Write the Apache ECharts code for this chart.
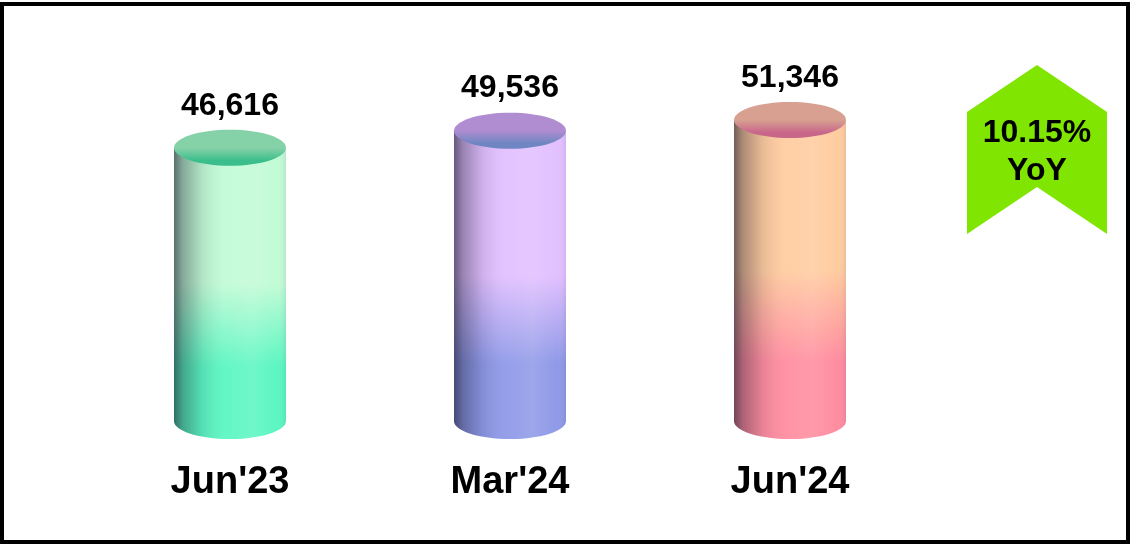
<!DOCTYPE html>
<html>
<head>
<meta charset="utf-8">
<script src="https://cdn.jsdelivr.net/npm/echarts@6/dist/echarts.min.js"></script>
<style>html,body{margin:0;padding:0;background:#fff}#c{width:1139px;height:545px}</style>
</head>
<body>
<div id="c"></div>
<script>
var categories = ["Jun'23", "Mar'24", "Jun'24"];
var values = [46616, 49536, 51346];

var palette = [
  {bodyTop:'#c2fbd6', bodyBot:'#5cf6c2', capTop:'#86d2a8', capBot:'#3cbe8c'},
  {bodyTop:'#e2c0ff', bodyBot:'#8f9ae8', capTop:'#b08cd0', capBot:'#6f86c2'},
  {bodyTop:'#ffcca0', bodyBot:'#ff8da0', capTop:'#d8a090', capBot:'#c8668a'}
];
var FONT = "'Liberation Sans', Arial, Helvetica, sans-serif";

var yoy = ((values[values.length-1] - values[0]) / values[0] * 100).toFixed(2) + '%';

function hShade() {
  return new echarts.graphic.LinearGradient(0,0,1,0,[
    {offset:0,color:'rgba(20,20,40,0.6)'},
    {offset:0.08,color:'rgba(20,20,40,0.35)'},
    {offset:0.25,color:'rgba(20,20,40,0.1)'},
    {offset:0.45,color:'rgba(255,255,255,0.05)'},
    {offset:0.7,color:'rgba(255,255,255,0.12)'},
    {offset:0.92,color:'rgba(255,255,255,0.0)'},
    {offset:1,color:'rgba(20,20,40,0.08)'}]);
}

function renderItem(params, api) {
  var i = api.value(0);
  var v = api.value(1);
  var top = api.coord([i, v]);
  var bot = api.coord([i, 0]);
  var bw = api.size([1, 0])[0];
  var rx = bw * 0.2;
  var ry = 18;
  var cx = top[0];
  var p = palette[i % palette.length];
  var bodyH = bot[1] - top[1];
  var bodyFill = new echarts.graphic.LinearGradient(0,0,0,1,[
    {offset:0,color:p.bodyTop},{offset:0.5,color:p.bodyTop},{offset:0.8,color:p.bodyBot},{offset:1,color:p.bodyBot}]);
  return {
    type:'group',
    children:[
      {type:'ellipse', shape:{cx:cx, cy:bot[1], rx:rx, ry:ry}, style:{fill:p.bodyBot}},
      {type:'ellipse', shape:{cx:cx, cy:bot[1], rx:rx, ry:ry}, style:{fill:hShade()}},
      {type:'rect', shape:{x:cx-rx, y:top[1], width:rx*2, height:bodyH}, style:{fill:bodyFill}},
      {type:'rect', shape:{x:cx-rx, y:top[1], width:rx*2, height:bodyH}, style:{fill:hShade()}},
      {type:'ellipse', shape:{cx:cx, cy:top[1], rx:rx, ry:ry},
        style:{fill:new echarts.graphic.LinearGradient(0,0,0,1,[
          {offset:0,color:p.capTop},{offset:0.5,color:p.capTop},{offset:0.85,color:p.capBot},{offset:1,color:p.capBot}])}},
      {type:'text', style:{x:cx, y:top[1]-42, text:v.toLocaleString('en-US'),
        align:'center', verticalAlign:'middle', fill:'#000',
        font:'bold 32px ' + FONT}}
    ]
  };
}

var chart = echarts.init(document.getElementById('c'), null, {renderer:'canvas'});
chart.setOption({
  backgroundColor:'#fff',
  animation:false,
  grid:{left:90, right:209, top:69.3, bottom:124},
  xAxis:{type:'category', data:categories,
    axisLine:{show:false}, axisTick:{show:false}, splitLine:{show:false},
    axisLabel:{margin:43, fontSize:38, fontWeight:'bold', color:'#000', fontFamily:FONT, lineHeight:38}},
  yAxis:{type:'value', min:0, max:60000, show:false},
  series:[{
    type:'custom',
    renderItem:renderItem,
    data:values.map(function(v,i){return [i,v];}),
    clip:false
  }],
  graphic:[
    {type:'rect', shape:{x:2, y:4, width:1126, height:538}, style:{fill:null, stroke:'#000', lineWidth:4}, z:100},
    {type:'polygon', shape:{points:[[1037,65],[1107,112],[1107,234],[1037,187],[967,234],[967,112]]}, style:{fill:'#80e500'}},
    {type:'text', style:{x:1037, y:133, text:yoy, align:'center', verticalAlign:'middle', fill:'#000', font:'bold 32px ' + FONT}},
    {type:'text', style:{x:1037, y:171, text:'YoY', align:'center', verticalAlign:'middle', fill:'#000', font:'bold 32px ' + FONT}}
  ]
});
</script>
</body>
</html>
